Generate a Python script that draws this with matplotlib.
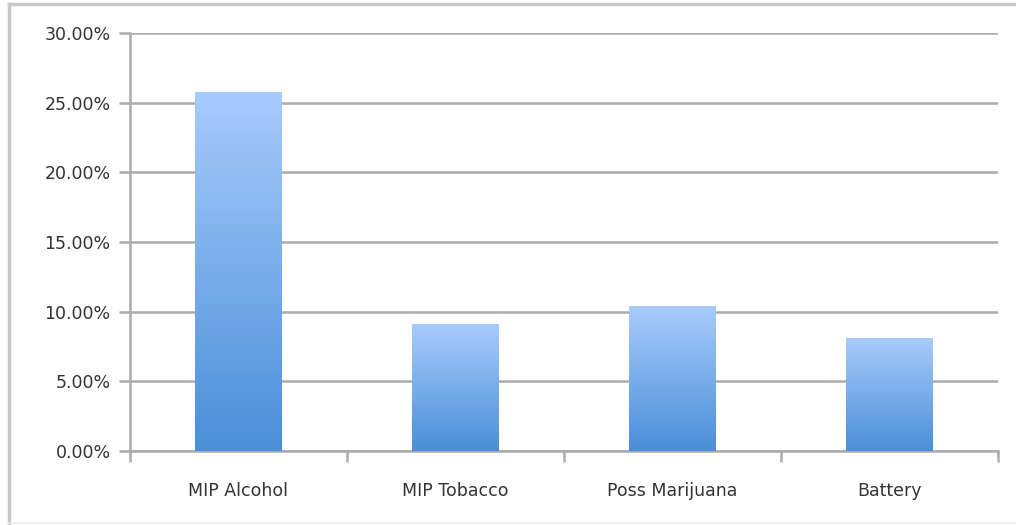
import numpy as np
import matplotlib.pyplot as plt
from matplotlib.lines import Line2D
from matplotlib.colors import LinearSegmentedColormap
from matplotlib.ticker import FuncFormatter

categories = ["MIP Alcohol", "MIP Tobacco", "Poss Marijuana", "Battery"]
values = [25.8, 9.1, 10.4, 8.1]

fig = plt.figure(figsize=(10.16, 5.25), dpi=100)
ax = fig.add_axes([130 / 1016, 1 - 451 / 525, 868 / 1016, 418 / 525])

# outer chart frame (cut off on the right in the original)
W, H = 1016, 525
fig.lines.append(Line2D([9 / W, 9 / W], [0, 1 - 4 / H], transform=fig.transFigure,
                        color="#c8c8c8", linewidth=2.5))
fig.lines.append(Line2D([9 / W, 1], [1 - 4 / H, 1 - 4 / H], transform=fig.transFigure,
                        color="#c8c8c8", linewidth=2.5))
fig.lines.append(Line2D([9 / W, 1], [2 / H, 2 / H], transform=fig.transFigure,
                        color="#ececec", linewidth=1.2))

grad = LinearSegmentedColormap.from_list("bar", ["#4a8fd8", "#a8cbfc"])
x = np.arange(len(categories))
bars = ax.bar(x, values, width=0.4, color="none", zorder=3)
g = np.linspace(0, 1, 256).reshape(-1, 1)
for b in bars:
    x0, y0 = b.get_x(), b.get_y()
    im = ax.imshow(g, cmap=grad, aspect="auto", origin="lower",
                   extent=[x0, x0 + b.get_width(), y0, y0 + b.get_height()],
                   zorder=3)
    im.set_clip_path(b)

ax.set_xlim(-0.5, len(categories) - 0.5)
ax.set_ylim(0, 30)
ax.set_yticks(np.arange(0, 31, 5))
ax.yaxis.set_major_formatter(FuncFormatter(lambda v, p: "%.2f%%" % v))
ax.grid(axis="y", color="#ababab", linewidth=1.8, zorder=1)

ax.set_xticks(x)
ax.set_xticklabels(categories)
ax.set_xticks(np.arange(-0.5, len(categories)), minor=True)
ax.tick_params(axis="x", which="major", length=0, pad=22, labelsize=12.5, labelcolor="#333333")
ax.tick_params(axis="x", which="minor", length=8, width=1.8, color="#ababab")
ax.tick_params(axis="y", length=8, width=1.8, color="#ababab", pad=6, labelsize=12.5, labelcolor="#333333")

for s in ["top", "right"]:
    ax.spines[s].set_visible(False)
for s in ["left", "bottom"]:
    ax.spines[s].set_color("#ababab")
    ax.spines[s].set_linewidth(1.8)

fig.savefig("out.png", dpi=100)
